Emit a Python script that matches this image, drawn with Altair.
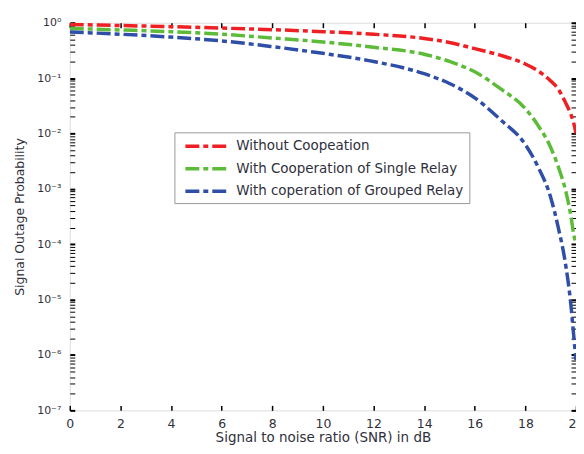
import altair as alt
import pandas as pd

snr = [0, 2, 4, 6, 8, 10, 12, 14, 15, 16, 17, 18, 18.5, 19, 19.3, 19.6, 19.8, 19.9, 20]
p_without = [0.93, 0.89, 0.85, 0.80, 0.75, 0.69, 0.62, 0.52, 0.44, 0.34, 0.26, 0.18, 0.135,
             0.089, 0.063, 0.035, 0.022, 0.016, 0.010]
p_single = [0.79, 0.74, 0.69, 0.62, 0.53, 0.45, 0.36, 0.27, 0.20, 0.13, 0.065, 0.028, 0.014,
            0.0056, 0.0025, 0.00089, 0.00032, 0.00016, 0.0001]
p_grouped = [0.68, 0.62, 0.55, 0.47, 0.37, 0.28, 0.20, 0.12, 0.08, 0.044, 0.018, 0.0063,
             0.0025, 0.0007, 0.0002, 0.00004, 0.0000079, 0.0000025, 0.0000008]

series_names = ["Without Coopeation", "With Cooperation of Single Relay",
                "With coperation of Grouped Relay"]
series_colors = ["#ee2024", "#5cbb38", "#2f4ea8"]

x_ticks = [0, 2, 4, 6, 8, 10, 12, 14, 16, 18, 20]
y_exponents = [-7, -6, -5, -4, -3, -2, -1, 0]
y_ticks = [m * 10.0 ** e for e in y_exponents[:-1] for m in range(1, 10)] + [1.0]

rows = []
for name, vals in zip(series_names, [p_without, p_single, p_grouped]):
    for s, v in zip(snr, vals):
        rows.append({"snr": s, "p": v, "series": name})
df = pd.DataFrame(rows)

label_expr = (
    "abs(-log(datum.value)/LN10 - round(-log(datum.value)/LN10)) < 0.001 ? "
    "['10\u2070','10\u207b\u00b9','10\u207b\u00b2','10\u207b\u00b3','10\u207b\u2074',"
    "'10\u207b\u2075','10\u207b\u2076','10\u207b\u2077'][round(-log(datum.value)/LN10)] : ''"
)
major_test = "abs(-log(datum.value)/LN10 - round(-log(datum.value)/LN10)) < 0.001"

xscale = alt.Scale(domain=[0, 20], nice=False)
yscale = alt.Scale(type="log", domain=[1e-7, 1], nice=False)

font = "DejaVu Sans"
txt = "#30303c"
dash = [14, 4, 5, 4]

lines = alt.Chart(df).mark_line(
    strokeWidth=3.5, strokeDash=dash, interpolate="monotone", clip=True
).encode(
    x=alt.X("snr:Q", scale=xscale,
            axis=alt.Axis(orient="bottom", values=x_ticks, title="Signal to noise ratio (SNR) in dB",
                          domain=False, offset=-5, tickSize=5, tickColor="#000", tickWidth=1.5,
                          labelPadding=7, labelFontSize=12.5, labelFont=font, labelColor=txt,
                          titleFont=font, titleFontSize=13.5, titleFontWeight="normal",
                          titleColor=txt, titlePadding=1, grid=False, labelFlush=False)),
    y=alt.Y("p:Q", scale=yscale,
            axis=alt.Axis(orient="left", values=y_ticks, labelExpr=label_expr,
                          title="Signal Outage Probability", domain=False, offset=-5, tickSize=5,
                          tickColor="#000",
                          tickWidth={"condition": {"test": major_test, "value": 2}, "value": 1},
                          labelPadding=9, labelFontSize=11, labelFont=font, labelColor=txt,
                          titleFont=font, titleFontSize=12.5, titleFontWeight="normal",
                          titleColor=txt, titlePadding=10, grid=False, labelFlush=False)),
    color=alt.Color("series:N", scale=alt.Scale(domain=series_names, range=series_colors),
                    legend=alt.Legend(title=None, orient="none", legendX=105, legendY=110,
                                      symbolType="M-3,0H3", symbolStrokeWidth=3.5,
                                      symbolDash=dash, symbolSize=196, symbolOffset=18,
                                      labelFont=font, labelFontSize=13.5, labelColor=txt,
                                      labelOffset=21, rowPadding=6.5, padding=5,
                                      fillColor="white", strokeColor="#999", labelLimit=400)),
)

frame = alt.Chart(df).mark_line(opacity=0).encode(
    x=alt.X("snr:Q", scale=xscale,
            axis=alt.Axis(orient="top", values=x_ticks, labels=False, title=None, domain=False,
                          offset=-5, tickSize=5, tickColor="#000", tickWidth=1.5, grid=False)),
    y=alt.Y("p:Q", scale=yscale,
            axis=alt.Axis(orient="right", values=y_ticks, labels=False, title=None, domain=False,
                          offset=-5, tickSize=5, tickColor="#000",
                          tickWidth={"condition": {"test": major_test, "value": 2}, "value": 1},
                          grid=False)),
    detail="series:N",
)

chart = alt.layer(lines, frame).resolve_axis(x="independent", y="independent").properties(
    width=508, height=389,
    padding={"left": 62, "top": 14, "right": 0, "bottom": 40},
    autosize="none",
).configure_view(stroke="#000", strokeWidth=1.2).configure(background="white")

chart.save("out.html", embed_options={"renderer": "svg", "actions": False})
